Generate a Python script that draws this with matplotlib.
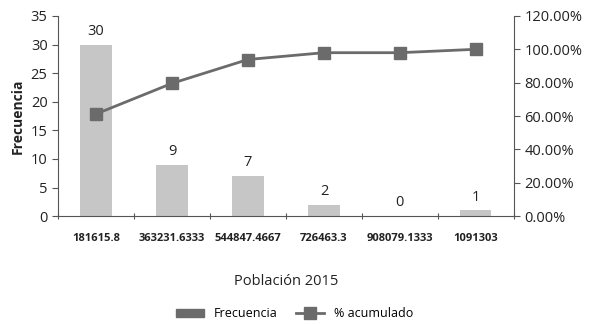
import matplotlib.pyplot as plt
from matplotlib.ticker import PercentFormatter, MultipleLocator
from matplotlib.lines import Line2D
from matplotlib.patches import Patch

# data
categories = ['181615.8', '363231.6333', '544847.4667', '726463.3', '908079.1333', '1091303']
frecuencia = [30, 9, 7, 2, 0, 1]
acumulado = [61.22, 79.59, 93.88, 97.96, 97.96, 100.0]

plt.rcParams['font.family'] = ['Open Sans', 'DejaVu Sans']

bar_color = '#c6c6c6'
line_color = '#6b6b6b'
text_color = '#222222'

fig = plt.figure(figsize=(5.89, 3.25), dpi=100)
ax = fig.add_axes([0.0985, 0.335, 0.774, 0.616])
ax2 = ax.twinx()

x = list(range(len(categories)))
ax.bar(x, frecuencia, width=0.41, color=bar_color, zorder=2)
for xi, v in zip(x, frecuencia):
    ax.text(xi, v + 1.0, str(v), ha='center', va='bottom', fontsize=10.5, color=text_color)

ax2.plot(x, acumulado, color=line_color, lw=2, marker='s', markersize=8, zorder=3)

ax.set_xlim(-0.5, len(categories) - 0.5)
ax.set_ylim(0, 35)
ax.yaxis.set_major_locator(MultipleLocator(5))
ax2.set_ylim(0, 120)
ax2.yaxis.set_major_locator(MultipleLocator(20))
ax2.yaxis.set_major_formatter(PercentFormatter(decimals=2))

ax.set_xticks([i - 0.5 for i in range(len(categories) + 1)])
ax.set_xticklabels([])
ax.set_xticks(x, minor=True)
ax.set_xticklabels(categories, minor=True, fontsize=8, fontweight='bold', color=text_color)
ax.tick_params(axis='x', which='minor', length=0, pad=12)
ax.tick_params(axis='x', which='major', length=4, direction='inout', color='#555555')

for a in (ax, ax2):
    a.spines['top'].set_visible(False)
    for s in ('left', 'right', 'bottom'):
        a.spines[s].set_color('#555555')
ax.spines['right'].set_visible(False)
ax2.spines['left'].set_visible(False)
ax2.spines['bottom'].set_visible(False)

ax.tick_params(axis='y', labelsize=10.5, color='#555555', labelcolor=text_color, length=4)
ax2.tick_params(axis='y', labelsize=10.5, color='#555555', labelcolor=text_color, length=4)

ax.set_ylabel('Frecuencia', fontsize=10, fontweight='bold', color=text_color, labelpad=4)
ax.set_xlabel('Población 2015', fontsize=10.5, color=text_color, labelpad=22)

handles = [Patch(color=line_color, label='Frecuencia'),
           Line2D([0], [0], color=line_color, lw=2, marker='s', markersize=8, label='% acumulado')]
fig.legend(handles=handles, loc='center', bbox_to_anchor=(0.5, 0.035), ncol=2,
           frameon=False, fontsize=9, handlelength=2.2, handleheight=0.6, columnspacing=1.5)

fig.savefig('out.png', dpi=100)
